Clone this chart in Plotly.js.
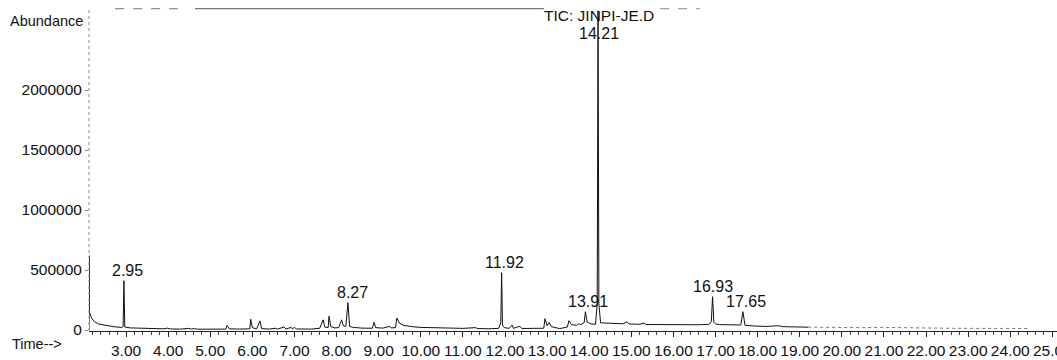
<!DOCTYPE html>
<html>
<head>
<meta charset="utf-8">
<script src="https://cdn.plot.ly/plotly-3.0.1.min.js"></script>
<style>
  html, body { margin: 0; padding: 0; background: #fff; }
  #chart { width: 1057px; height: 360px; }
</style>
</head>
<body>
<div id="chart"></div>
<script>
// Retention time (min) and abundance
const times = [
  2.12, 2.125, 2.13, 2.18, 2.25, 2.35, 2.5, 2.7, 2.9, 2.93, 2.95, 2.97, 3.1, 3.4, 3.7, 3.9, 3.98, 4.05,
  4.3, 4.48, 4.55, 4.62, 4.7, 5.0, 5.37, 5.40, 5.45, 5.7, 5.94, 5.96, 6.0, 6.1, 6.18, 6.22,
  6.4, 6.55, 6.6, 6.75, 6.8, 6.92, 6.95, 7.0, 7.05, 7.4, 7.6, 7.68, 7.72, 7.8, 7.82, 7.86,
  7.95, 8.05, 8.12, 8.16, 8.22, 8.27, 8.31, 8.4, 8.6, 8.85, 8.89, 8.93, 9.1, 9.25, 9.3, 9.4,
  9.43, 9.5, 9.6, 9.8, 10.0, 10.5, 11.0, 11.3, 11.35, 11.6, 11.85, 11.9, 11.92, 11.94, 11.98,
  12.1, 12.17, 12.2, 12.35, 12.4, 12.7, 12.92, 12.95, 13.0, 13.05, 13.1, 13.3, 13.48, 13.52,
  13.58, 13.7, 13.75, 13.8, 13.88, 13.91, 13.95, 14.0, 14.05, 14.15, 14.19, 14.21, 14.23, 14.27,
  14.5, 14.8, 14.9, 14.95, 15.2, 15.3, 15.35, 15.6, 15.8, 16.0, 16.3, 16.6, 16.85, 16.9, 16.93,
  16.96, 17.0, 17.1, 17.3, 17.6, 17.65, 17.7, 17.9, 18.2, 18.5, 18.6, 18.9, 19.2
];
const abundance = [
  0, 620000, 150000, 100000, 70000, 50000, 38000, 28000, 22000, 30000, 411000, 25000, 18000, 14000, 11000, 10000, 16000, 9000,
  8000, 14000, 8000, 12000, 7000, 6000, 8000, 38000, 10000, 8000, 10000, 90000, 20000, 9000, 76000, 12000,
  8000, 15000, 8000, 25000, 9000, 22000, 10000, 22000, 9000, 8000, 15000, 85000, 25000, 20000, 115000, 30000,
  18000, 20000, 85000, 35000, 30000, 228000, 30000, 22000, 16000, 15000, 65000, 20000, 16000, 30000, 18000, 20000,
  100000, 55000, 38000, 28000, 22000, 18000, 14000, 20000, 13000, 10000, 14000, 60000, 478000, 40000, 20000,
  14000, 42000, 14000, 32000, 13000, 12000, 15000, 95000, 35000, 62000, 28000, 12000, 25000, 78000,
  45000, 40000, 52000, 45000, 62000, 153000, 65000, 58000, 50000, 48000, 220000, 2660000, 220000, 60000,
  55000, 52000, 68000, 50000, 48000, 58000, 46000, 45000, 46000, 42000, 45000, 44000, 48000, 70000, 278000,
  65000, 50000, 45000, 44000, 42000, 153000, 40000, 34000, 30000, 36000, 28000, 26000, 24000
];
// Faint tail of the trace (scanned dots near baseline)
const tailTimes = [19.2, 19.6, 20.0, 20.5, 21.0, 21.5, 22.0, 22.5, 23.0, 23.5, 24.0, 24.4];
const tailAbundance = [24000, 22000, 24000, 20000, 22000, 18000, 16000, 15000, 14000, 14000, 13000, 13000];

// Labelled peaks
const peakTimes = [2.95, 8.27, 11.92, 13.91, 16.93, 17.65];
const peakLabels = ["2.95", "8.27", "11.92", "13.91", "16.93", "17.65"];
const peakShift = [4, 5, 3, 3, 0, 3];

const xTickVals = [3,4,5,6,7,8,9,10,11,12,13,14,15,16,17,18,19,20,21,22,23,24,25];
const xTickText = xTickVals.map(v => v.toFixed(2));
const yTickVals = [0, 500000, 1000000, 1500000, 2000000];
const yTickText = ["0", "500000", "1000000", "1500000", "2000000"];

const FONT = "Liberation Sans, Arial, sans-serif";
const INK = "#111";

const traces = [
  { x: times, y: abundance, type: "scatter", mode: "lines",
    line: { color: INK, width: 1 }, hoverinfo: "skip", showlegend: false },
  { x: tailTimes, y: tailAbundance, type: "scatter", mode: "lines",
    line: { color: "#777", width: 1, dash: "dot" }, hoverinfo: "skip", showlegend: false }
];

const annotations = peakTimes.map((t, i) => ({
  x: t, y: abundance[times.indexOf(t)], xref: "x", yref: "y",
  text: peakLabels[i], showarrow: false, xanchor: "center", yanchor: "bottom",
  xshift: peakShift[i], yshift: 0, font: { family: FONT, size: 16, color: INK }
}));
annotations.push(
  { text: "Abundance", xref: "paper", yref: "paper", x: -0.0837, y: 0.966,
    xanchor: "left", yanchor: "middle", showarrow: false,
    font: { family: FONT, size: 14.5, color: INK } },
  { text: "Time-->", xref: "paper", yref: "paper", x: -0.0816, y: -0.04,
    xanchor: "left", yanchor: "middle", showarrow: false,
    font: { family: FONT, size: 14.5, color: INK } },
  { text: "TIC: JINPI-JE.D", xref: "x", yref: "paper", x: 14.23, y: 0.984,
    xanchor: "center", yanchor: "middle", showarrow: false,
    font: { family: FONT, size: 15.5, color: INK } },
  { text: "14.21", xref: "x", yref: "paper", x: 14.24, y: 0.928,
    xanchor: "center", yanchor: "middle", showarrow: false,
    font: { family: FONT, size: 16, color: INK } }
);

const shapes = [
  { type: "line", xref: "paper", yref: "paper", x0: 0, x1: 0, y0: 0, y1: 1,
    line: { color: "#888", width: 1, dash: "dot" } },
  { type: "line", xref: "paper", yref: "paper", x0: 0.1095, x1: 0.470, y0: 1.004, y1: 1.004,
    line: { color: "#555", width: 1 } },
  { type: "line", xref: "paper", yref: "paper", x0: 0.027, x1: 0.094, y0: 1.004, y1: 1.004,
    line: { color: "#777", width: 1, dash: "dash" } },
  { type: "line", xref: "paper", yref: "paper", x0: 0.59, x1: 0.631, y0: 1.004, y1: 1.004,
    line: { color: "#888", width: 1, dash: "dash" } }
];

const layout = {
  width: 1057, height: 360,
  margin: { l: 89, r: 0, t: 10, b: 29, pad: 0 },
  paper_bgcolor: "#fff", plot_bgcolor: "#fff",
  showlegend: false,
  font: { family: FONT, color: INK },
  xaxis: {
    range: [2.12, 25.11], showgrid: false, zeroline: false,
    showline: true, linecolor: "#222", linewidth: 1,
    tickmode: "array", tickvals: xTickVals, ticktext: xTickText,
    ticks: "outside", ticklen: 5, tickcolor: "#222", tickwidth: 1,
    tickangle: 0, ticklabeloverflow: "allow",
    minor: { ticks: "outside", ticklen: 3, dtick: 0.2, tick0: 0, tickcolor: "#444", showgrid: false },
    tickfont: { family: FONT, size: 15.5, color: INK }
  },
  yaxis: {
    range: [-8000, 2667000], showgrid: false, zeroline: false, showline: false,
    tickmode: "array", tickvals: yTickVals, ticktext: yTickText,
    ticks: "outside", ticklen: 3, tickcolor: "#888", tickwidth: 1,
    tickfont: { family: FONT, size: 15.5, color: INK }
  },
  annotations: annotations,
  shapes: shapes
};

Plotly.newPlot("chart", traces, layout, { staticPlot: true, displayModeBar: false });
</script>
</body>
</html>
